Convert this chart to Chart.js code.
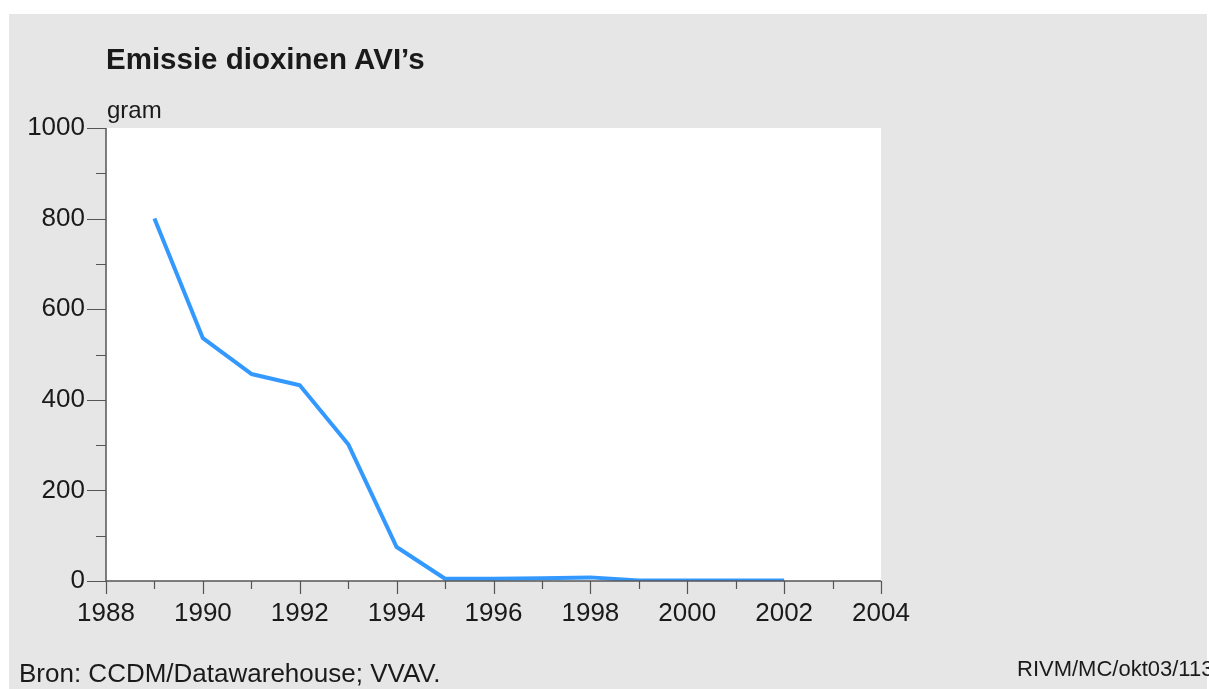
<!DOCTYPE html>
<html>
<head>
<meta charset="utf-8">
<script src="https://cdn.jsdelivr.net/npm/chart.js@4.4.1/dist/chart.umd.min.js"></script>
<style>
  html, body { margin: 0; padding: 0; background: #ffffff; }
  #wrap { position: relative; width: 1209px; height: 689px; overflow: hidden; }
  canvas { position: absolute; left: 0; top: 0; }
  .txt { position: absolute; font-family: "Liberation Sans", Arial, sans-serif; color: #1a1a1a; white-space: nowrap; line-height: 1; }
</style>
</head>
<body>
<div id="wrap">
  <canvas id="c" width="1209" height="689"></canvas>
  <div class="txt" id="title" style="left:106px; top:44px; font-size:29.5px; font-weight:bold;">Emissie dioxinen AVI’s</div>
  <div class="txt" id="unit" style="left:107px; top:98px; font-size:24px;">gram</div>
  <div class="txt" id="src" style="left:19px; top:660px; font-size:26px;">Bron: CCDM/Datawarehouse; VVAV.</div>
  <div class="txt" id="code" style="left:1017px; top:658px; font-size:22px;">RIVM/MC/okt03/113</div>
</div>
<script>
// ---- data ----
const years = [1989, 1990, 1991, 1992, 1993, 1994, 1995, 1996, 1997, 1998, 1999, 2000, 2001, 2002];
const dioxin = [800, 536, 457, 432, 302, 75, 5, 5, 6, 8, 1, 1, 1, 1];
const xTickLabels = [1988, 1990, 1992, 1994, 1996, 1998, 2000, 2002, 2004];
const yTickLabels = [0, 200, 400, 600, 800, 1000];

const AREA = { left: 106, top: 128, right: 881, bottom: 581 };
const AXIS_COLOR = '#555555';
const LABEL_FONT = { family: '"Liberation Sans", Arial, sans-serif', size: 26 };

const bgPlugin = {
  id: 'bg',
  beforeDraw(chart) {
    const ctx = chart.ctx;
    ctx.save();
    ctx.fillStyle = '#ffffff';
    ctx.fillRect(0, 0, chart.width, chart.height);
    ctx.fillStyle = '#e6e6e6';
    ctx.fillRect(9, 14, 1198, 675);
    const a = chart.chartArea;
    ctx.fillStyle = '#ffffff';
    ctx.fillRect(a.left, a.top, a.right - a.left, a.bottom - a.top);
    ctx.restore();
  },
  afterDatasetsDraw(chart) {
    const ctx = chart.ctx;
    const a = chart.chartArea;
    const xs = chart.scales.x, ys = chart.scales.y;
    ctx.save();
    ctx.strokeStyle = AXIS_COLOR;
    ctx.lineWidth = 1.5;
    ctx.beginPath();
    ctx.moveTo(a.left, a.top);
    ctx.lineTo(a.left, a.bottom);
    ctx.lineTo(a.right, a.bottom);
    ctx.stroke();
    ctx.lineWidth = 1.2;
    ctx.beginPath();
    xs.ticks.forEach(t => {
      const px = Math.round(xs.getPixelForValue(t.value)) + 0.5;
      const major = xTickLabels.includes(t.value);
      ctx.moveTo(px, a.bottom);
      ctx.lineTo(px, a.bottom + (major ? 13 : 8));
    });
    ys.ticks.forEach(t => {
      const py = Math.round(ys.getPixelForValue(t.value)) + 0.5;
      const major = yTickLabels.includes(t.value);
      ctx.moveTo(a.left, py);
      ctx.lineTo(a.left - (major ? 19 : 10), py);
    });
    ctx.stroke();
    ctx.restore();
  }
};

new Chart(document.getElementById('c'), {
  type: 'line',
  data: {
    datasets: [{
      data: years.map((y, i) => ({ x: y, y: dioxin[i] })),
      borderColor: '#3399ff',
      borderWidth: 4,
      pointRadius: 0,
      tension: 0,
      fill: false,
      borderJoinStyle: 'round',
      borderCapStyle: 'butt'
    }]
  },
  options: {
    responsive: false,
    animation: false,
    layout: { padding: { left: 0, top: AREA.top, right: 1209 - AREA.right, bottom: 0 } },
    plugins: { legend: { display: false }, tooltip: { enabled: false }, title: { display: false } },
    scales: {
      x: {
        type: 'linear',
        min: 1988, max: 2004,
        border: { display: false },
        grid: { display: false, drawTicks: false },
        ticks: {
          stepSize: 1, autoSkip: false, maxRotation: 0,
          padding: 17,
          color: '#1a1a1a',
          font: LABEL_FONT,
          callback: v => xTickLabels.includes(v) ? String(v) : ''
        },
        afterFit(s) { s.height = 689 - AREA.bottom; s.paddingLeft = 0; s.paddingRight = 0; }
      },
      y: {
        type: 'linear',
        min: 0, max: 1000,
        border: { display: false },
        grid: { display: false, drawTicks: false },
        ticks: {
          stepSize: 100, autoSkip: false,
          padding: 21,
          color: '#1a1a1a',
          font: LABEL_FONT,
          callback: v => yTickLabels.includes(v) ? String(v) : ''
        },
        afterFit(s) { s.width = AREA.left; s.paddingTop = 0; s.paddingBottom = 0; }
      }
    }
  },
  plugins: [bgPlugin]
});
</script>
</body>
</html>
